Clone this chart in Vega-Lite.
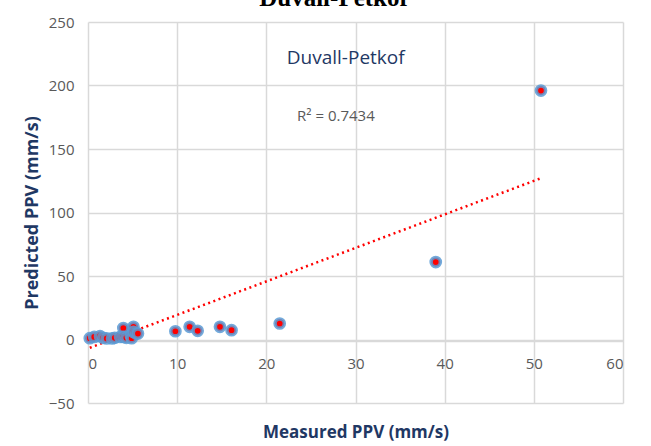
{
  "$schema": "https://vega.github.io/schema/vega-lite/v6.json",
  "width": 535,
  "height": 381,
  "autosize": {"type": "none"},
  "padding": {"left": 88, "top": 22, "right": 28, "bottom": 43},
  "background": "white",
  "title": {
    "text": "Duvall-Petkof",
    "font": "Liberation Serif",
    "fontSize": 25,
    "fontWeight": "bold",
    "color": "#000000",
    "anchor": "middle",
    "dx": -22,
    "baseline": "alphabetic",
    "offset": -16
  },
  "config": {
    "view": {"stroke": null},
    "axis": {
      "labelFont": "Open Sans",
      "labelFontSize": 15,
      "labelColor": "#595959",
      "titleFont": "Open Sans",
      "titleFontSize": 17,
      "titleFontWeight": "bold",
      "titleColor": "#1f3864",
      "gridColor": "#d9d9d9",
      "gridWidth": 1.5,
      "ticks": false,
      "domain": false
    }
  },
  "datasets": {
    "points": [
      {"measured": 0.2, "predicted": 1},
      {"measured": 0.7, "predicted": 2},
      {"measured": 1.35, "predicted": 2.6},
      {"measured": 1.7, "predicted": 1.3},
      {"measured": 2.1, "predicted": 0.8},
      {"measured": 2.7, "predicted": 0.8},
      {"measured": 3.0, "predicted": 1.3},
      {"measured": 3.6, "predicted": 2},
      {"measured": 3.96, "predicted": 9},
      {"measured": 3.96, "predicted": 2},
      {"measured": 4.3, "predicted": 1.3},
      {"measured": 4.8, "predicted": 3},
      {"measured": 4.9, "predicted": 1},
      {"measured": 5.1, "predicted": 10},
      {"measured": 5.1, "predicted": 6},
      {"measured": 5.4, "predicted": 4.7},
      {"measured": 5.6, "predicted": 4.7},
      {"measured": 9.8, "predicted": 6.5},
      {"measured": 11.4, "predicted": 10},
      {"measured": 12.3, "predicted": 6.8},
      {"measured": 14.8, "predicted": 10},
      {"measured": 16.1, "predicted": 7.3},
      {"measured": 21.5, "predicted": 12.6},
      {"measured": 39.0, "predicted": 61},
      {"measured": 50.8, "predicted": 196}
    ],
    "trend": [
      {"measured": 0.2, "predicted": -6.5},
      {"measured": 50.8, "predicted": 127}
    ],
    "labels": [
      {"measured": 28.9, "predicted": 222, "text": "Duvall-Petkof", "kind": "name"},
      {"measured": 27.8, "predicted": 176, "text": "R² = 0.7434", "kind": "r2"}
    ]
  },
  "layer": [
    {
      "data": {"name": "points"},
      "mark": {"type": "point", "filled": true, "opacity": 0},
      "encoding": {
        "x": {
          "field": "measured", "type": "quantitative",
          "scale": {"domain": [0, 60], "nice": false},
          "axis": {
            "title": "Measured PPV (mm/s)",
            "values": [0, 10, 20, 30, 40, 50, 60],
            "offset": -62,
            "labelPadding": 15,
            "titleY": 91,
            "titleBaseline": "middle",
            "grid": true,
            "domain": true,
            "domainColor": "#d9d9d9",
            "domainWidth": 1.5
          }
        },
        "y": {
          "field": "predicted", "type": "quantitative",
          "scale": {"domain": [-50, 250], "nice": false},
          "axis": {
            "title": "Predicted PPV (mm/s)",
            "titleFontSize": 18,
            "values": [-50, 0, 50, 100, 150, 200, 250],
            "labelPadding": 14,
            "titleX": -47,
            "grid": true
          }
        }
      }
    },
    {
      "data": {"name": "trend"},
      "mark": {"type": "line", "color": "#ff0000", "strokeWidth": 2.5, "strokeDash": [2, 3.5]},
      "encoding": {
        "x": {"field": "measured", "type": "quantitative"},
        "y": {"field": "predicted", "type": "quantitative"}
      }
    },
    {
      "data": {"name": "points"},
      "mark": {"type": "point", "filled": true, "fill": "#ff0000", "stroke": "#5b9bd5", "strokeWidth": 3.5, "size": 85, "opacity": 1, "strokeOpacity": 0.85},
      "encoding": {
        "x": {"field": "measured", "type": "quantitative"},
        "y": {"field": "predicted", "type": "quantitative"}
      }
    },
    {
      "data": {"name": "labels"},
      "mark": {"type": "text", "font": "Open Sans", "align": "center", "baseline": "middle"},
      "encoding": {
        "x": {"field": "measured", "type": "quantitative"},
        "y": {"field": "predicted", "type": "quantitative"},
        "text": {"field": "text"},
        "size": {"field": "kind", "type": "nominal", "scale": {"domain": ["name", "r2"], "range": [19, 15]}, "legend": null},
        "color": {"field": "kind", "type": "nominal", "scale": {"domain": ["name", "r2"], "range": ["#1f3864", "#595959"]}, "legend": null}
      }
    }
  ]
}
